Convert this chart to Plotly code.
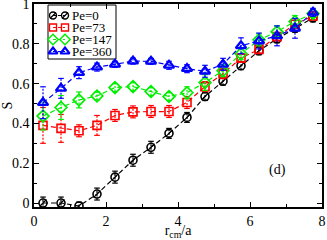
import plotly.graph_objects as go

r_cm = [0.25, 0.75, 1.25, 1.75, 2.25, 2.75, 3.25, 3.75, 4.25, 4.75, 5.25, 5.75, 6.25, 6.75, 7.25, 7.75]

s_pe0 = [0.0, 0.0, -0.015, 0.045, 0.13, 0.215, 0.28, 0.35, 0.43, 0.535, 0.612, 0.69, 0.765, 0.825, 0.878, 0.93]
e_pe0 = [0.03, 0.03, 0.02, 0.03, 0.03, 0.03, 0.03, 0.025, 0.025, 0.02, 0.02, 0.02, 0.02, 0.02, 0.02, 0.02]

s_pe73 = [0.39, 0.375, 0.363, 0.39, 0.44, 0.458, 0.46, 0.46, 0.505, 0.585, 0.65, 0.728, 0.772, 0.836, 0.898, 0.94]
e_pe73 = [0.09, 0.07, 0.03, 0.05, 0.03, 0.03, 0.03, 0.03, 0.03, 0.025, 0.025, 0.02, 0.02, 0.02, 0.02, 0.02]

s_pe147 = [0.437, 0.48, 0.518, 0.538, 0.58, 0.585, 0.56, 0.535, 0.554, 0.605, 0.665, 0.75, 0.82, 0.86, 0.912, 0.952]
e_pe147 = [0.07, 0.06, 0.04, 0.02, 0.02, 0.02, 0.02, 0.02, 0.03, 0.04, 0.03, 0.03, 0.03, 0.03, 0.03, 0.02]

s_pe360 = [0.504, 0.576, 0.655, 0.683, 0.697, 0.713, 0.712, 0.692, 0.675, 0.662, 0.697, 0.79, 0.814, 0.84, 0.878, 0.958]
e_pe360 = [0.08, 0.05, 0.03, 0.02, 0.015, 0.015, 0.015, 0.02, 0.02, 0.03, 0.03, 0.04, 0.04, 0.05, 0.05, 0.02]

names = ["Pe=0", "Pe=73", "Pe=147", "Pe=360"]
colors = ["black", "red", "#00ee00", "blue"]
symbols = ["circle-open", "square-open", "diamond-open", "triangle-up-open"]
sizes = [8, 8, 9, 9]
edge_widths = [1.6, 1.6, 1.7, 2.3]
series = [s_pe0, s_pe73, s_pe147, s_pe360]
errors = [e_pe0, e_pe73, e_pe147, e_pe360]

serif = "Liberation Serif"

fig = go.Figure()
for name, col, sym, sz, lw, s, e in zip(names, colors, symbols, sizes, edge_widths, series, errors):
    # dotted error bars with small caps
    ex, ey, cx, cy = [], [], [], []
    for xi, yi, ei in zip(r_cm, s, e):
        ex += [xi, xi, None]
        ey += [yi - ei, yi + ei, None]
        cx += [xi, xi]
        cy += [yi - ei, yi + ei]
    fig.add_trace(go.Scatter(x=ex, y=ey, mode="lines", showlegend=False, hoverinfo="skip",
                             line=dict(color=col, width=1.2, dash="2px,1.5px")))
    fig.add_trace(go.Scatter(x=cx, y=cy, mode="markers", showlegend=False, hoverinfo="skip",
                             marker=dict(symbol="line-ew-open", size=4, color=col,
                                         line=dict(color=col, width=1.2))))
    fig.add_trace(go.Scatter(
        x=r_cm, y=s, name=name, mode="lines+markers", showlegend=False,
        line=dict(color=col, width=1.2, dash="5px,3px"),
        marker=dict(symbol=sym, size=sz, color=col, line=dict(color=col, width=lw)),
    ))
    if name == "Pe=0":
        fig.add_trace(go.Scatter(
            x=r_cm, y=s, mode="markers", showlegend=False, hoverinfo="skip",
            marker=dict(symbol="line-ne-open", size=7, color=col, line=dict(color=col, width=1.2)),
        ))

# hand-drawn legend on an overlay axis measured in page pixels
leg_x0, leg_x1, leg_y0, leg_y1 = 48, 116, 5, 59
row_y = [15.5, 27.5, 39.5, 51.5]
sample_x = [53, 65]
fig.add_shape(type="rect", xref="x2", yref="y2", x0=leg_x0, x1=leg_x1, y0=leg_y0, y1=leg_y1,
              line=dict(color="black", width=1), fillcolor="white", layer="below")
for name, col, sym, sz, lw, ry in zip(names, colors, symbols, sizes, edge_widths, row_y):
    fig.add_trace(go.Scatter(
        x=sample_x, y=[ry, ry], xaxis="x2", yaxis="y2", mode="lines+markers",
        showlegend=False, hoverinfo="skip",
        line=dict(color=col, width=1.2, dash="3px,2px"),
        marker=dict(symbol=sym, size=sz - 1, color=col, line=dict(color=col, width=lw - 0.2)),
    ))
    if name == "Pe=0":
        fig.add_trace(go.Scatter(
            x=sample_x, y=[ry, ry], xaxis="x2", yaxis="y2", mode="markers",
            showlegend=False, hoverinfo="skip",
            marker=dict(symbol="line-ne-open", size=6, color=col, line=dict(color=col, width=1.2)),
        ))
    fig.add_annotation(x=71, y=ry, xref="x2", yref="y2", text=name, showarrow=False,
                       xanchor="left", yanchor="middle", borderpad=0,
                       font=dict(family=serif, size=13, color="black"))

fig.add_annotation(x=6.75, y=0.165, text="(d)", showarrow=False,
                   font=dict(family=serif, size=14, color="black"))

axis_common = dict(
    showline=True, linecolor="black", linewidth=1.5, mirror="allticks",
    ticks="inside", ticklen=5, tickwidth=1.2, tickcolor="black",
    showgrid=False, zeroline=False, ticklabeloverflow="allow", automargin=False,
    tickfont=dict(family=serif, size=14, color="black"),
)

fig.update_xaxes(range=[0, 8], tickvals=[0, 2, 4, 6, 8],
                 minor=dict(tickvals=[1, 3, 5, 7], ticks="inside", ticklen=3, tickcolor="black"),
                 title=dict(text="r<sub>cm</sub>/a", font=dict(family=serif, size=14, color="black")),
                 **axis_common)
fig.update_yaxes(range=[-0.02, 1.0], tickvals=[0, 0.2, 0.4, 0.6, 0.8, 1.0],
                 ticktext=["0", "0.2", "0.4", "0.6", "0.8", "1"],
                 minor=dict(tickvals=[0.1, 0.3, 0.5, 0.7, 0.9], ticks="inside", ticklen=3, tickcolor="black"),
                 title=dict(text="S", font=dict(family=serif, size=14, color="black")),
                 **axis_common)

fig.update_layout(
    width=327, height=240,
    margin=dict(l=34, r=5, t=4, b=33),
    paper_bgcolor="white", plot_bgcolor="white",
    font=dict(family=serif, color="black"),
    showlegend=False,
    xaxis2=dict(overlaying="x", range=[34, 322], visible=False, fixedrange=True, automargin=False),
    yaxis2=dict(overlaying="y", range=[207, 4], visible=False, fixedrange=True, automargin=False),
)

fig.write_html("out.html", config={"displayModeBar": False},
               post_script="document.body.style.margin='0';")
